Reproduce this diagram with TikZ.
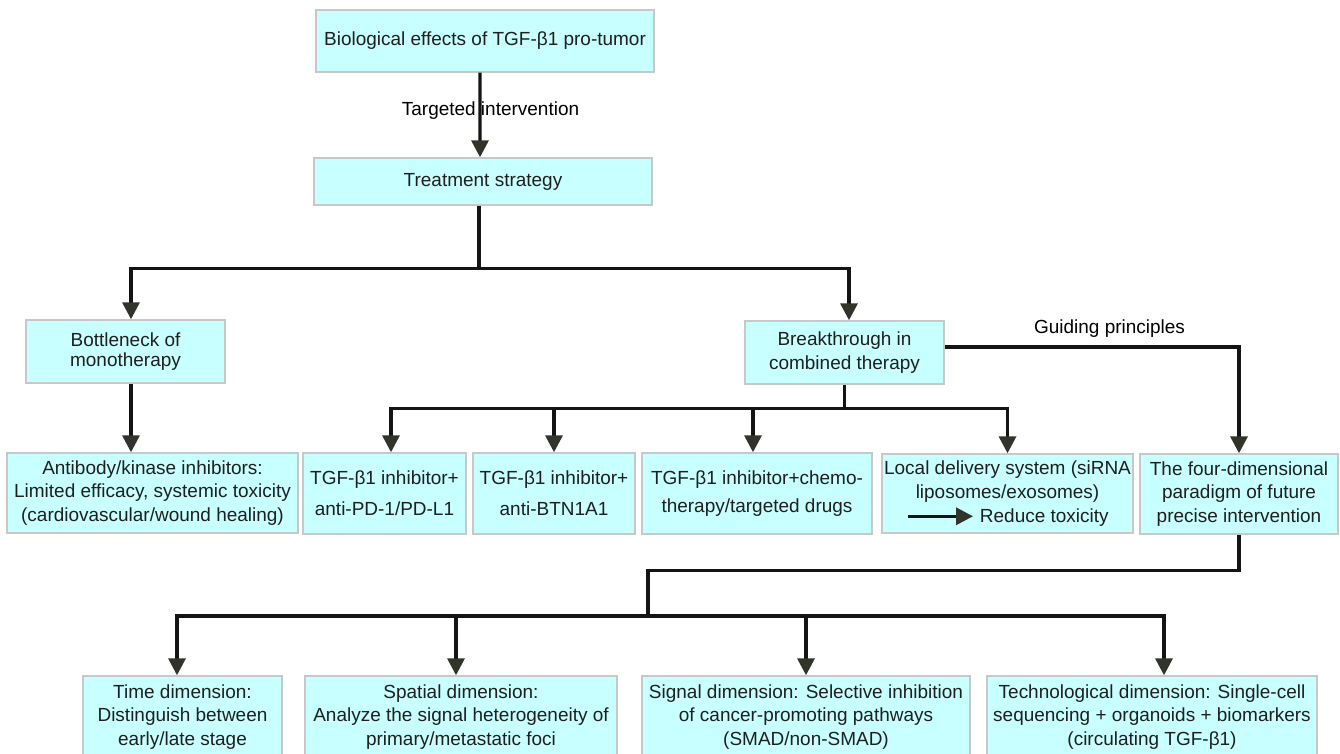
\documentclass[tikz,border=0pt]{standalone}
\usepackage{fontspec}
\setmainfont{Liberation Sans}
\usepackage{xcolor}
\usetikzlibrary{positioning, arrows.meta}
\definecolor{boxfill}{RGB}{200,255,255}
\definecolor{boxline}{RGB}{200,200,200}
\definecolor{linecol}{RGB}{20,20,20}
\definecolor{tipcol}{RGB}{48,52,42}

\begin{document}
\begin{tikzpicture}[font=\fontsize{10.8}{13.6}\selectfont,
          box/.style={rectangle, draw=boxline, line width=0.8pt, fill=boxfill,
                      align=center, inner sep=1pt, text=black!88},
          line/.style={draw=linecol, line width=1.9pt},
          conn/.style={line, -{Triangle[width=0.34cm, length=0.34cm, color=tipcol]}}]
          \useasboundingbox (0,0) rectangle (26.8,-15.08);

          \node[box, minimum width=6.76cm, minimum height=1.24cm] (bio) at (9.70,-0.82) {Biological effects of TGF-β1 pro-tumor};
          \node[box, minimum width=6.76cm, minimum height=0.94cm] (strat) at (9.66,-3.63) {Treatment strategy};
          \node[box, minimum width=3.98cm, minimum height=1.26cm] (mono) at (2.51,-7.03) {Bottleneck of\\[-2.2pt]monotherapy};
          \node[box, minimum width=3.98cm, minimum height=1.26cm] (combo) at (16.89,-7.05) {Breakthrough in\\combined therapy};

          \node[box, minimum width=5.82cm, minimum height=1.60cm] (mab) at (3.05,-9.86) {Antibody/kinase inhibitors:\\Limited efficacy, systemic toxicity\\(cardiovascular/wound healing)};
          \node[box, minimum width=3.26cm, minimum height=1.62cm] (pdl) at (7.69,-9.87) {TGF-β1 inhibitor+\\[4pt]anti-PD-1/PD-L1};
          \node[box, minimum width=3.24cm, minimum height=1.62cm] (btn) at (11.08,-9.87) {TGF-β1 inhibitor+\\[4pt]anti-BTN1A1};
          \node[box, minimum width=4.60cm, minimum height=1.62cm] (chemo) at (15.14,-9.87) {TGF-β1 inhibitor+chemo-\\[2.3pt]therapy/targeted drugs};
          \node[box, minimum width=5.02cm, minimum height=1.58cm] (deliv) at (20.15,-9.87) {Local delivery system (siRNA\\liposomes/exosomes)\\\tikz[baseline=-0.6ex]\draw[conn] (0,0) -- (1.3,0);\ Reduce toxicity};
          \node[box, minimum width=3.96cm, minimum height=1.60cm] (four) at (24.78,-9.88) {The four-dimensional\\paradigm of future\\precise intervention};

          \node[box, minimum width=3.98cm, minimum height=1.64cm] (time) at (3.65,-14.34) {Time dimension:\\Distinguish between\\early/late stage};
          \node[box, minimum width=6.24cm, minimum height=1.64cm] (space) at (9.22,-14.34) {Spatial dimension:\\Analyze the signal heterogeneity of\\primary/metastatic foci};
          \node[box, minimum width=6.56cm, minimum height=1.64cm] (signal) at (16.12,-14.34) {Signal dimension: Selective inhibition\\of cancer-promoting pathways\\(SMAD/non-SMAD)};
          \node[box, minimum width=6.60cm, minimum height=1.64cm] (tech) at (23.04,-14.34) {Technological dimension: Single-cell\\sequencing + organoids + biomarkers\\(circulating TGF-β1)};

          % forks
          \coordinate (fork1) at ([xshift=-0.08cm, yshift=-1.26cm]strat.south);
          \coordinate (fork2) at ([yshift=-0.48cm]combo.south);
          \coordinate (fork3) at ([yshift=-0.72cm]four.south);
          \coordinate (fork4) at (12.96,-12.32);

          \node (tgt) at (9.81,-2.21) {Targeted intervention};
          \draw[conn] ([xshift=-0.1cm]bio.south) -- ([xshift=-0.06cm]strat.north);

          \draw[line] (fork1 |- strat.south) -- (fork1);
          \draw[conn] (fork1) -| ([xshift=0.11cm]mono.north);
          \draw[conn] (fork1) -| ([xshift=0.09cm]combo.north);
          \draw[conn] ([xshift=0.11cm]mono.south) -- ([xshift=0.11cm]mono.south |- mab.north);

          \draw[line] (combo) -- (fork2);
          \draw[conn] (fork2) -| ([xshift=0.13cm]pdl.north);
          \draw[conn] (fork2) -| (btn);
          \draw[conn] (fork2) -| ([xshift=-0.08cm]chemo.north);
          \draw[conn] (fork2) -| (deliv);
          \draw[conn] ([yshift=0.11cm]combo.east) -| (four) node (guide) [pos=0.28, above=1pt] {Guiding principles};

          \draw[line] (four) -- (fork3) -| (fork4);
          \draw[conn] (fork4) -| ([xshift=-0.11cm]time.north);
          \draw[conn] (fork4) -| ([xshift=-0.10cm]space.north);
          \draw[conn] (fork4) -| (signal);
          \draw[conn] (fork4) -| ([xshift=0.24cm]tech.north);
        \end{tikzpicture}
\end{document}
